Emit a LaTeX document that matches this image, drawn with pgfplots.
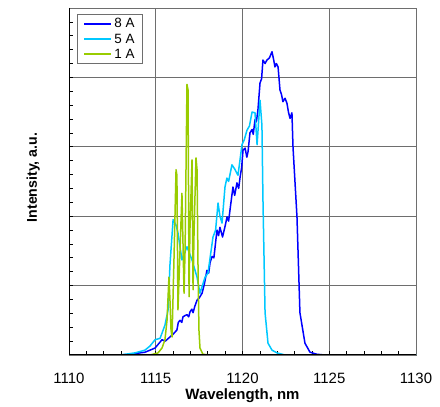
\documentclass[border=0pt]{standalone}
\usepackage{fontspec}
\setmainfont{Liberation Sans}
\usepackage{pgfplots}
\pgfplotsset{compat=1.18}

\definecolor{cEight}{RGB}{0,0,255}
\definecolor{cFive}{RGB}{0,200,255}
\definecolor{cOne}{RGB}{153,204,0}
\definecolor{gridc}{RGB}{110,110,110}

\begin{document}
\begin{tikzpicture}
  \begin{axis}[
      scale only axis,
      width=347bp, height=347bp,
      xmin=1110, xmax=1130,
      ymin=0, ymax=5,
      xtick={1110,1115,1120,1125,1130},
      ytick={0,1,2,3,4,5},
      yticklabels={},
      minor x tick num=4,
      minor y tick num=4,
      xtick pos=bottom, ytick pos=left,
      tick align=inside,
      major tick length=4bp, minor tick length=4bp,
      tick style={black, line width=0.7bp},
      grid=major,
      major grid style={gridc, line width=0.9bp},
      axis line style={gridc, line width=0.9bp},
      /pgf/number format/assume math mode=true,
      /pgf/number format/1000 sep={},
      xticklabel style={font=\fontsize{15}{18}\selectfont, anchor=base, yshift=-29bp},
      xlabel={\textbf{Wavelength, nm}},
      ylabel={\textbf{Intensity, a.u.}},
      xlabel style={font=\fontsize{15}{18}\selectfont, at={(axis description cs:0.5,0)}, anchor=base, yshift=-45bp},
      ylabel style={font=\fontsize{14.2}{17}\selectfont, at={(axis description cs:0,0.5)}, anchor=base, yshift=32bp, xshift=4bp},
      legend style={at={(rel axis cs:0,1)}, anchor=north west, xshift=8bp, yshift=-6bp,
        draw=gridc, line width=0.9bp, font=\fontsize{13.5}{15}\selectfont,
        row sep=0.5bp, inner xsep=6bp, inner ysep=2bp},
      legend cell align=left,
      legend image code/.code={\draw[#1, line width=2bp] (0bp,0bp) -- (27bp,0bp);},
      every axis plot/.append style={line width=1.5bp, line join=round},
    ]
    % 8 A
    \addplot[cEight] coordinates {
      (1110,0) (1112.94,0) (1113.52,0.01) (1114.38,0.04) (1114.96,0.10)
      (1115.36,0.22) (1115.55,0.20) (1115.82,0.26) (1116.00,0.30) (1116.22,0.36)
      (1116.30,0.47) (1116.40,0.50) (1116.50,0.47) (1116.57,0.55) (1116.70,0.57)
      (1116.80,0.58) (1116.90,0.55) (1116.97,0.62) (1117.08,0.66) (1117.15,0.61)
      (1117.25,0.70) (1117.38,0.79) (1117.50,0.82) (1117.67,0.89) (1117.80,1.02)
      (1117.95,1.22) (1118.05,1.18) (1118.13,1.33) (1118.25,1.42) (1118.35,1.40)
      (1118.53,1.80) (1118.62,1.72) (1118.70,1.84) (1118.85,1.70) (1119.00,1.86)
      (1119.11,1.99) (1119.20,1.93) (1119.28,2.09) (1119.45,2.42) (1119.55,2.30)
      (1119.68,2.48) (1119.78,2.40) (1119.86,2.56) (1119.95,2.70) (1120.03,2.95)
      (1120.15,2.98) (1120.25,2.85) (1120.32,2.93) (1120.43,3.20) (1120.55,3.25)
      (1120.62,3.18) (1120.72,3.39) (1120.80,3.36) (1120.89,3.53) (1121.01,3.92)
      (1121.10,3.98) (1121.18,4.25) (1121.30,4.20) (1121.41,4.25) (1121.55,4.28)
      (1121.70,4.37) (1121.80,4.25) (1121.87,4.15) (1121.95,4.20) (1122.05,4.15)
      (1122.16,3.82) (1122.25,3.75) (1122.33,3.65) (1122.45,3.70) (1122.56,3.63)
      (1122.65,3.50) (1122.74,3.41) (1122.85,3.49) (1122.91,3.00) (1123.14,1.99)
      (1123.31,0.61) (1123.60,0.17) (1123.89,0.04) (1124.29,0.01) (1124.75,0)
      (1130,0)
    };
    \addlegendentry{8 A}
    % 5 A
    \addplot[cFive] coordinates {
      (1110,0) (1112.94,0) (1113.80,0.03) (1114.38,0.07) (1114.67,0.13)
      (1114.96,0.22) (1115.25,0.24) (1115.53,0.43) (1115.71,0.65) (1115.82,1.30)
      (1116.00,1.95) (1116.17,1.87) (1116.28,1.76) (1116.51,1.37) (1116.80,1.56)
      (1117.09,1.37) (1117.38,1.12) (1117.55,0.89) (1117.84,1.12) (1118.01,1.18)
      (1118.30,1.70) (1118.45,1.80) (1118.59,2.19) (1118.70,2.00) (1118.82,1.90)
      (1118.99,2.42) (1119.10,2.55) (1119.20,2.50) (1119.39,2.74) (1119.55,2.68)
      (1119.74,2.59) (1119.85,2.80) (1119.97,3.03) (1120.10,3.10) (1120.26,3.24)
      (1120.40,3.30) (1120.55,3.50) (1120.72,3.49) (1120.84,3.03) (1121.01,3.67)
      (1121.12,3.31) (1121.18,2.23) (1121.30,0.61) (1121.47,0.17) (1121.70,0.07)
      (1121.99,0.03) (1122.45,0) (1130,0)
    };
    \addlegendentry{5 A}
    % 1 A
    \addplot[cOne] coordinates {
      (1110,0) (1114.67,0) (1115.13,0.03) (1115.36,0.10) (1115.53,0.22)
      (1115.65,0.50) (1115.76,1.12) (1115.82,0.79) (1115.88,0.36) (1115.94,0.26)
      (1116.05,1.37) (1116.17,2.67) (1116.22,2.59) (1116.28,0.65) (1116.40,1.51)
      (1116.51,2.33) (1116.63,0.89) (1116.69,1.51) (1116.80,3.90) (1116.86,3.82)
      (1116.92,0.84) (1116.97,1.80) (1117.09,2.81) (1117.15,0.94) (1117.21,1.80)
      (1117.32,2.84) (1117.38,2.67) (1117.44,1.18) (1117.49,0.36) (1117.55,0.10)
      (1117.72,0.01) (1118.13,0) (1130,0)
    };
    \addlegendentry{1 A}
    \draw[black, line width=1bp] (rel axis cs:0,1) -- (rel axis cs:0,0) -- (rel axis cs:1,0);
  \end{axis}
  \useasboundingbox ([xshift=-69bp,yshift=-51bp]current axis.south west) rectangle ([xshift=24bp,yshift=8bp]current axis.north east);
\end{tikzpicture}
\end{document}
